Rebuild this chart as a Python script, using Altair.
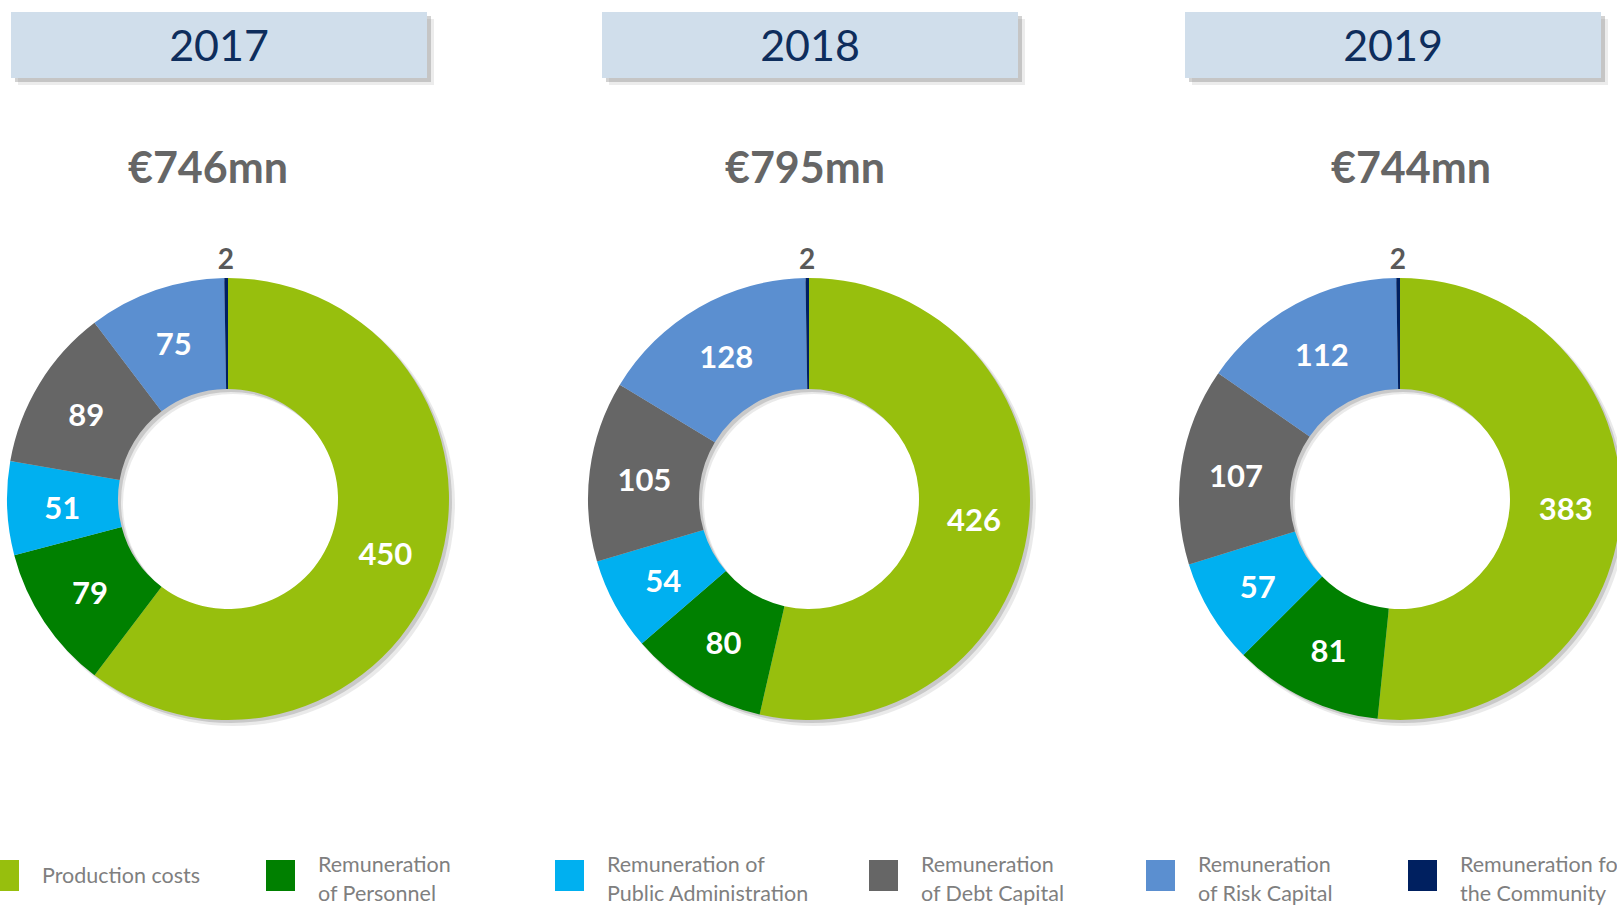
import math
import altair as alt
import pandas as pd

# ---- data -------------------------------------------------------------
years = ["2017", "2018", "2019"]
totals = ["€746mn", "€795mn", "€744mn"]

categories = [
    "Production costs",
    "Remuneration of Personnel",
    "Remuneration of Public Administration",
    "Remuneration of Debt Capital",
    "Remuneration of Risk Capital",
    "Remuneration for the Community",
]
legend_labels = [
    "Production costs",
    "Remuneration\nof Personnel",
    "Remuneration of\nPublic Administration",
    "Remuneration\nof Debt Capital",
    "Remuneration\nof Risk Capital",
    "Remuneration for\nthe Community",
]
colors = ["#97BF0D", "#008000", "#00B0F0", "#666666", "#5B8FD0", "#002060"]

values_2017 = [450, 79, 51, 89, 75, 2]
values_2018 = [426, 80, 54, 105, 128, 2]
values_2019 = [383, 81, 57, 107, 112, 2]
values_by_year = [values_2017, values_2018, values_2019]

# ---- layout (pixels) --------------------------------------------------
W, H = 1617, 906
donut_cx = [228, 809, 1400]
donut_cy = 499
inner_r, outer_r = 110, 221
label_r = 166
small_label_r = 238
box_x0 = [11, 602, 1185]
box_w = 416
box_y0, box_y1 = 12, 78
header_y = 48
total_cx = [208, 805, 1411]
total_y = 170
legend_x = [-10, 266, 555, 869, 1146, 1408]
swatch_y0, swatch_y1 = 860, 891
swatch_w = 29
legend_text_dx = 52
legend_line_h = 29
legend_y_single = 877
legend_y_double = 866

# ---- tables -----------------------------------------------------------
slices = pd.DataFrame(
    [
        {"year": y, "category": c, "order": i, "value": v, "cx": cx, "cy": donut_cy}
        for y, vals, cx in zip(years, values_by_year, donut_cx)
        for i, (c, v) in enumerate(zip(categories, vals))
    ]
)
panels = pd.DataFrame(
    {
        "year": years,
        "total": totals,
        "cx": donut_cx,
        "cy": [donut_cy] * 3,
        "bx0": box_x0,
        "bx1": [x + box_w for x in box_x0],
        "by0": [box_y0] * 3,
        "by1": [box_y1] * 3,
        "bxc": [x + box_w / 2 for x in box_x0],
        "hy": [header_y] * 3,
        "tx": total_cx,
        "ty": [total_y] * 3,
    }
)
legend = pd.DataFrame(
    {
        "category": categories,
        "label": legend_labels,
        "sx0": legend_x,
        "sx1": [x + swatch_w for x in legend_x],
        "sy0": [swatch_y0] * 6,
        "sy1": [swatch_y1] * 6,
        "tx": [x + legend_text_dx for x in legend_x],
        "ty": [legend_y_double if "\n" in s else legend_y_single for s in legend_labels],
    }
)

xs = alt.Scale(domain=[0, W], nice=False, zero=False)
ys = alt.Scale(domain=[0, H], nice=False, zero=False, reverse=True)
theta_scale = alt.Scale(domain=[0, 1], range=[0, 2 * math.pi])
color_scale = alt.Scale(domain=categories, range=colors)
FONT = "Lato"


def X(f):
    return alt.X(f, type="quantitative", scale=xs, axis=None)


def Y(f):
    return alt.Y(f, type="quantitative", scale=ys, axis=None)


def box_layer(base, **mark):
    return base.mark_rect(**mark).encode(x=X("bx0"), x2="bx1", y=Y("by0"), y2="by1")


# ---- header boxes with soft shadow ------------------------------------
panel_base = alt.Chart(panels)
box_shadow_far = box_layer(panel_base, color="#7F7F7F", opacity=0.15,
                           xOffset=7, x2Offset=7, yOffset=7, y2Offset=7)
box_shadow = box_layer(panel_base, color="#7F7F7F", opacity=0.35,
                       xOffset=4, x2Offset=4, yOffset=4, y2Offset=4)
boxes = box_layer(panel_base, color="#D0DEEB")
header_text = panel_base.mark_text(
    font=FONT, fontSize=43, color="#0E2D5C", baseline="middle", align="center"
).encode(x=X("bxc"), y=Y("hy"), text="year:N")

total_text = panel_base.mark_text(
    font=FONT, fontSize=43, fontWeight="bold", color="#666666", baseline="middle", align="center"
).encode(x=X("tx"), y=Y("ty"), text="total:N")

# ---- donut shadow rings ------------------------------------------------
ring_shadow_far = panel_base.mark_arc(
    innerRadius=inner_r, outerRadius=outer_r + 1, color="#8C8C8C", opacity=0.18, xOffset=5, yOffset=5
).encode(x=X("cx"), y=Y("cy"), theta=alt.value(0), theta2=alt.value(2 * math.pi))
ring_shadow = panel_base.mark_arc(
    innerRadius=inner_r, outerRadius=outer_r, color="#8C8C8C", opacity=0.35, xOffset=3, yOffset=3
).encode(x=X("cx"), y=Y("cy"), theta=alt.value(0), theta2=alt.value(2 * math.pi))

# ---- donut slices ------------------------------------------------------
slice_base = (
    alt.Chart(slices)
    .transform_joinaggregate(total="sum(value)", groupby=["year"])
    .transform_window(
        cum="sum(value)", sort=[alt.SortField("order")], groupby=["year"], frame=[None, 0]
    )
    .transform_calculate(
        t0="(datum.cum - datum.value) / datum.total",
        t1="datum.cum / datum.total",
        tm="(datum.cum - datum.value / 2) / datum.total",
    )
)

arcs = slice_base.mark_arc(innerRadius=inner_r, outerRadius=outer_r, clip=True).encode(
    x=X("cx"),
    y=Y("cy"),
    theta=alt.Theta("t0:Q", scale=theta_scale, stack=None),
    theta2="t1:Q",
    color=alt.Color("category:N", scale=color_scale, legend=None),
)

inner_labels = (
    slice_base.transform_filter(alt.datum.value >= 10)
    .mark_text(radius=label_r, font=FONT, fontSize=31, fontWeight="bold", color="white",
               baseline="middle", align="center", dy=4, clip=True)
    .encode(
        x=X("cx"),
        y=Y("cy"),
        theta=alt.Theta("tm:Q", scale=theta_scale, stack=None),
        text="value:Q",
    )
)

outer_labels = (
    slice_base.transform_filter(alt.datum.value < 10)
    .mark_text(radius=small_label_r, font=FONT, fontSize=28, fontWeight="bold", color="#595959",
               baseline="middle", align="center")
    .encode(
        x=X("cx"),
        y=Y("cy"),
        theta=alt.Theta("tm:Q", scale=theta_scale, stack=None),
        text="value:Q",
    )
)

# ---- legend ------------------------------------------------------------
legend_base = alt.Chart(legend)
swatches = legend_base.mark_rect(clip=True).encode(
    x=X("sx0"), x2="sx1", y=Y("sy0"), y2="sy1",
    color=alt.Color("category:N", scale=color_scale, legend=None),
)
legend_text = legend_base.mark_text(
    font=FONT, fontSize=21.5, color="#7F7F7F", align="left", baseline="middle",
    lineBreak="\n", lineHeight=legend_line_h, clip=True,
).encode(x=X("tx"), y=Y("ty"), text="label:N")

chart = (
    alt.layer(
        box_shadow_far, box_shadow, boxes, header_text, total_text,
        ring_shadow_far, ring_shadow, arcs, inner_labels, outer_labels,
        swatches, legend_text,
    )
    .properties(width=W, height=H, autosize=alt.AutoSizeParams(type="none"), padding=0,
                background="white")
    .configure_view(stroke=None)
)

chart.save("out.html", embed_options={"renderer": "svg", "actions": False})
